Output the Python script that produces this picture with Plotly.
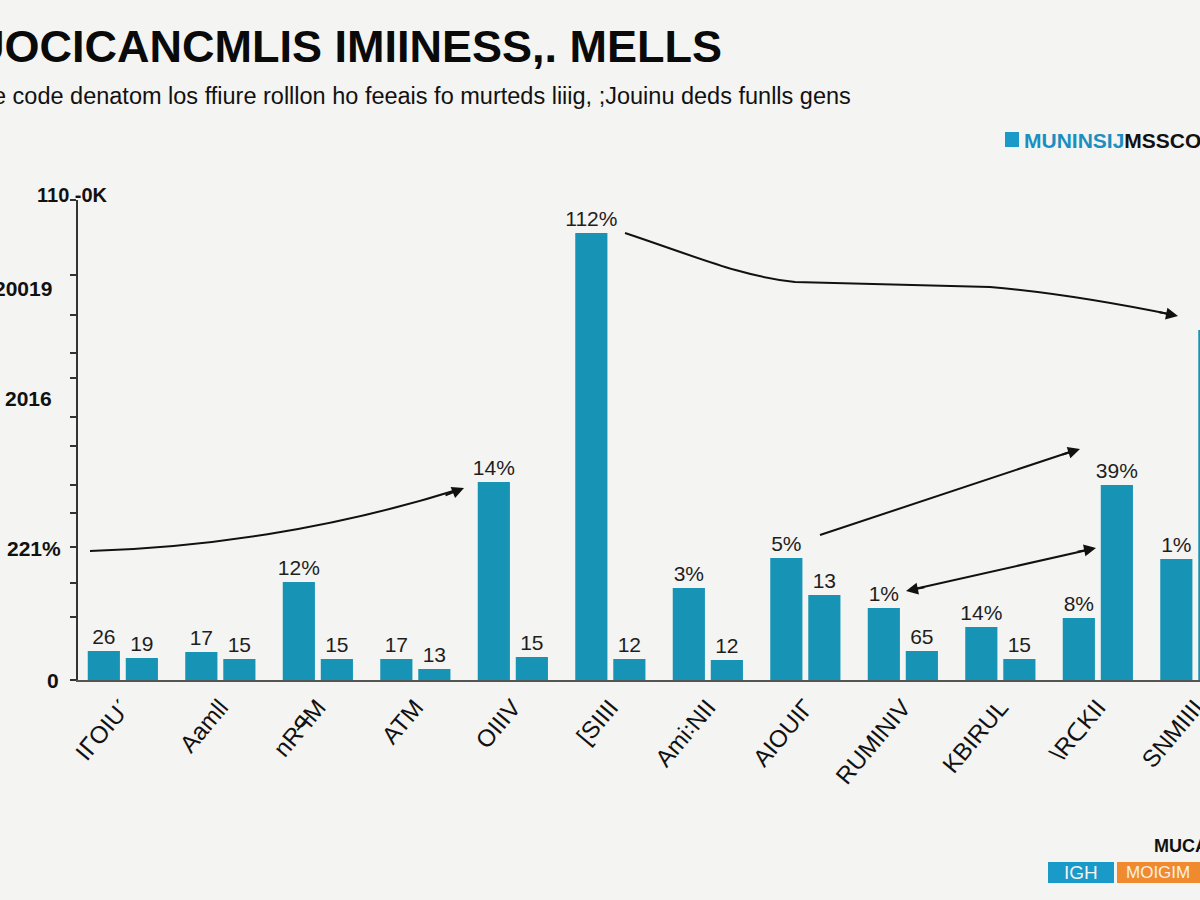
import plotly.graph_objects as go

# ---------------- data ----------------
categories = ["IᒥOIUˊ", "Aamll", "nRꟼ̶M", "ATM", "OIIIV", "[SIIII",
              "Ami꞉NII", "AIOUIГ", "RUMINIV", "KBIRUL", "\\RᑕKII", "SNMIIII"]
series_a = [7.25, 7.0, 24.5, 5.25, 49.5, 111.75, 23.0, 30.5, 18.0, 13.25, 15.5, 30.25]
series_b = [5.5, 5.25, 5.25, 2.75, 5.75, 5.25, 5.0, 21.25, 7.25, 5.25, 48.75, 87.5]
labels_a = ["26", "17", "12%", "17", "14%", "112%", "3%", "5%", "1%", "14%", "8%", "1%"]
labels_b = ["19", "15", "15", "13", "15", "12", "12", "13", "65", "15", "39%", "22"]
y_tick_marks = [0, 15.75, 24.25, 33.25, 41.75, 48.75, 58.5, 65.75, 75.5, 81.75, 91.25, 101.25, 120]
y_tick_labels = ["0", "221%", "2016", "20019"]
y_tick_label_vals = [0, 33, 70.5, 98]
top_label = "110 -0K"

title = "UOCICANCMLIS IMIINESS,. MELLS"
subtitle = "e code denatom los ffiure rolllon ho feeais fo murteds liiig, ;Jouinu deds funlls gens"

BG = "#f4f4f2"
BAR = "#1794b5"
W, H = 1210, 900
L, R, T, B = 78, 0, 200, 220
FONT = "Liberation Sans, Arial, sans-serif"
X_MIN = -0.46
X_UNIT_PX = 97.5
X_MAX = X_MIN + (W - L - R) / X_UNIT_PX


def px(x):
    return (x - L) / (W - L - R)


def py(y):
    return (H - B - y) / (H - T - B)


x_idx = list(range(len(categories)))

fig = go.Figure()
for vals, labs in ((series_a, labels_a), (series_b, labels_b)):
    fig.add_trace(go.Bar(x=x_idx, y=vals, text=labs, textposition="outside",
                         constraintext="none",
                         marker=dict(color=BAR, line=dict(width=0)),
                         textfont=dict(size=21, color="#1e1e1e", family=FONT),
                         cliponaxis=True, showlegend=False))

shapes = []
annotations = []


def path_shape(d, width=2):
    shapes.append(dict(type="path", path=d, xref="paper", yref="paper",
                       line=dict(color="#111111", width=width)))


def pt(x, y):
    return f"{px(x):.5f},{py(y):.5f}"


# connector curves
path_shape(f"M {pt(90,551)} C {pt(200,548)} {pt(330,530)} {pt(460,489)}")
path_shape(f"M {pt(625,233)} C {pt(700,258)} {pt(740,276)} {pt(795,282)} "
           f"L {pt(990,287)} C {pt(1050,292)} {pt(1110,302)} {pt(1174,315)}")
path_shape(f"M {pt(820,535)} L {pt(1076,450)}")
path_shape(f"M {pt(910,590)} L {pt(1092,549)}")


def arrow_head(x, y, ax, ay):
    annotations.append(dict(x=px(x), y=py(y), xref="paper", yref="paper",
                            ax=ax, ay=ay, text="", showarrow=True,
                            arrowhead=2, arrowsize=1.2, arrowwidth=2,
                            arrowcolor="#111111"))


arrow_head(464, 488, -20, 8)
arrow_head(1178, 316, -20, -4)
arrow_head(1080, 449, -19, 6)
arrow_head(1096, 548, -20, 4)
arrow_head(906, 591, 20, -4)

# y-axis labels
label_right = [61, 63, 54, 54]
for txt, v, xr in zip(y_tick_labels, y_tick_label_vals, label_right):
    annotations.append(dict(x=px(xr), y=v, xref="paper", yref="y", text=f"<b>{txt}</b>",
                            showarrow=False, xanchor="right", yanchor="middle",
                            font=dict(size=21, color="#111111", family=FONT)))
annotations.append(dict(x=px(72), y=py(195), xref="paper", yref="paper",
                        text=f"<b>{top_label}</b>",
                        showarrow=False, xanchor="center", yanchor="middle",
                        font=dict(size=20, color="#111111", family=FONT)))

# title & subtitle
annotations.append(dict(x=px(724), y=py(46), xref="paper", yref="paper", text=f"<b>{title}</b>",
                        showarrow=False, xanchor="right", yanchor="middle",
                        font=dict(size=45, color="#0a0a0a", family=FONT)))
annotations.append(dict(x=px(853), y=py(96), xref="paper", yref="paper", text=subtitle,
                        showarrow=False, xanchor="right", yanchor="middle",
                        font=dict(size=23.5, color="#111111", family=FONT)))

# legend-like label top right
shapes.append(dict(type="rect", xref="paper", yref="paper", x0=px(1005), x1=px(1019),
                   y0=py(147), y1=py(132), fillcolor="#1a9ac9", line=dict(width=0)))
annotations.append(dict(x=px(1022), y=py(140), xref="paper", yref="paper",
                        text="<b><span style='color:#1a8fc0'>MUNINSIJ</span>MSSCOR</b>",
                        showarrow=False, xanchor="left", yanchor="middle",
                        font=dict(size=21, color="#111111", family=FONT)))

# bottom-right logo
annotations.append(dict(x=px(1152), y=py(846), xref="paper", yref="paper", text="<b>MUCA</b>",
                        showarrow=False, xanchor="left", yanchor="middle",
                        font=dict(size=18, color="#111111", family=FONT)))
shapes.append(dict(type="rect", xref="paper", yref="paper", x0=px(1048), x1=px(1114),
                   y0=py(883), y1=py(862), fillcolor="#1a9ac9", line=dict(width=0)))
shapes.append(dict(type="rect", xref="paper", yref="paper", x0=px(1117), x1=px(1210),
                   y0=py(883), y1=py(862), fillcolor="#f08a2e", line=dict(width=0)))
annotations.append(dict(x=px(1081), y=py(872), xref="paper", yref="paper", text="IGH",
                        showarrow=False, xanchor="center", yanchor="middle",
                        font=dict(size=19, color="#f4f4f2", family=FONT)))
annotations.append(dict(x=px(1124), y=py(872), xref="paper", yref="paper", text="MOIGIM",
                        showarrow=False, xanchor="left", yanchor="middle",
                        font=dict(size=17, color="#fbefe3", family=FONT)))

fig.update_layout(
    width=W, height=H, autosize=False,
    margin=dict(l=L, r=R, t=T, b=B, pad=0),
    paper_bgcolor=BG, plot_bgcolor=BG,
    barmode="group", bargap=0.22, bargroupgap=0.154,
    shapes=shapes, annotations=annotations,
    showlegend=False,
)
fig.update_xaxes(
    range=[X_MIN, X_MAX], tickmode="array", tickvals=x_idx, ticktext=categories,
    tickangle=-50, tickfont=dict(size=24, color="#111111", family=FONT),
    showline=True, linecolor="#555555", linewidth=1.5, showgrid=False, zeroline=False,
    ticks="", ticklabelstandoff=2,
)
fig.update_yaxes(
    range=[0, 120], tickmode="array", tickvals=y_tick_marks,
    ticktext=[""] * len(y_tick_marks),
    ticks="outside", ticklen=6, tickwidth=1.5, tickcolor="#333333",
    showline=True, linecolor="#333333", linewidth=1.5, showgrid=False, zeroline=False,
)

fig.write_html(
    "out.html",
    config={"displayModeBar": False},
    post_script=(
        "document.body.style.margin='0';"
        "document.body.style.background='" + BG + "';"
        "document.documentElement.style.overflow='hidden';"
    ),
)
